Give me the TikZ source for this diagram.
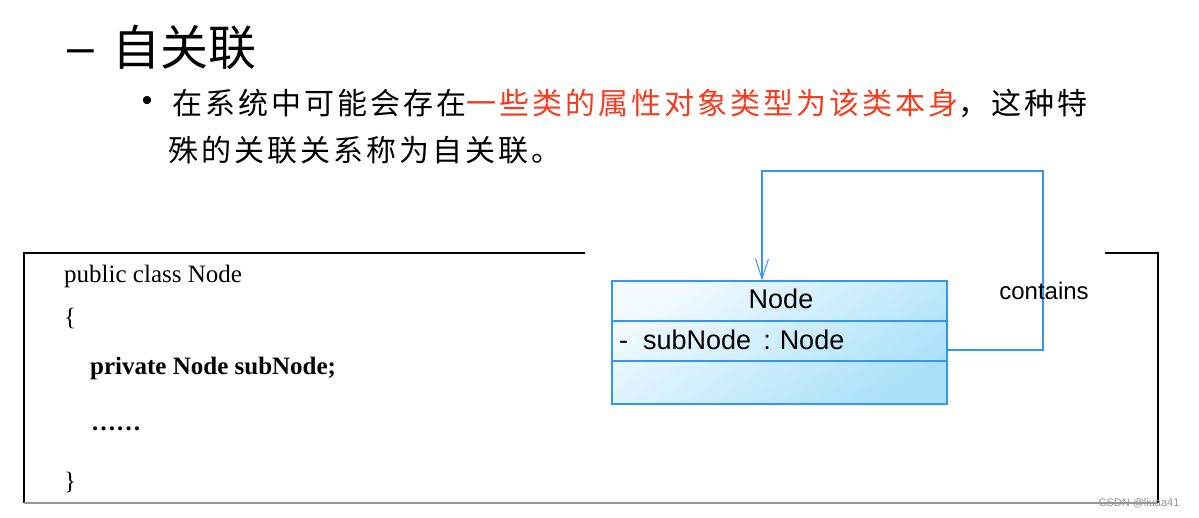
\documentclass[tikz,border=0pt]{standalone}
\usepackage{fontspec}
\usetikzlibrary{arrows.meta}
\newfontfamily\cjk{Noto Sans CJK SC}
\newfontfamily\cjkwide[LetterSpace=10]{Noto Sans CJK SC}
\newfontfamily\codefont{Liberation Serif}
\newfontfamily\umlfont{Liberation Sans}
\definecolor{umlborder}{RGB}{51,150,245}
\definecolor{umltop}{RGB}{242,250,255}
\definecolor{umlbottom}{RGB}{170,225,250}
\definecolor{hlred}{RGB}{245,60,30}
\definecolor{wm}{RGB}{150,150,150}
\tikzset{
  cjktext/.style={inner sep=0pt, font=\cjkwide\fontsize{30}{36}\selectfont},
  codetext/.style={anchor=base west, inner sep=0pt, font=\codefont\fontsize{25}{30}\selectfont},
  umltext/.style={inner sep=0pt, font=\umlfont\fontsize{27}{32}\selectfont},
  conn/.style={draw=umlborder, line width=1.4pt},
  frame/.style={line width=1.8pt}
}
\begin{document}
\begin{tikzpicture}[x=1pt,y=-1pt]
\useasboundingbox[fill=white] (0,0) rectangle (1199,518);
% title
\node[inner sep=0pt, font=\umlfont\fontsize{48}{56}\selectfont] (dash) at (81,57) {–};
\node[anchor=west, inner sep=0pt, font=\cjk\fontsize{48}{56}\selectfont] (title) at (112,47) {自关联};
% bullet text
\node[inner sep=0pt, font=\umlfont\fontsize{30}{36}\selectfont] (bullet) at (147,104) {•};
\node[cjktext, anchor=west] (line1) at (172,103) {在系统中可能会存在\textcolor{hlred}{一些类的属性对象类型为该类本身}，这种特};
\node[cjktext, anchor=west] (line2) at (168,150) {殊的关联关系称为自关联。};
% frame
\draw[frame] (585,253) -- (24,253) -- (24,503);
\draw[frame, wm] (24,503) -- (1158,503);
\draw[frame] (1105,253) -- (1158,253) -- (1158,503);
% code
\node[codetext] (c1) at (64,283) {public class Node};
\node[codetext] (c2) at (64,326) {\{};
\node[codetext] (c3) at (90,374) {\bfseries private Node subNode;};
\node[codetext] (c4) at (91,430) {\bfseries ……};
\node[codetext] (c5) at (64,489) {\}};
% UML class
\node[draw=umlborder, line width=1.2pt, minimum width=335pt, minimum height=123pt, inner sep=0pt,
      top color=umltop, bottom color=umlbottom, shading angle=35] (cls) at (779.5,342.5) {};
\draw[umlborder, line width=1.2pt] (cls.west |- 0,321) -- (cls.east |- 0,321);
\draw[umlborder, line width=1.2pt] (cls.west |- 0,361) -- (cls.east |- 0,361);
\node[umltext] (cname) at (781,299) {Node};
\node[umltext, anchor=west] (cattr) at (619,340) {-\hspace{15pt}subNode\hspace{12pt}:\hspace{9pt}Node};
% self association
\coordinate (start) at (cls.east |- 0,350);
\coordinate (end) at (cls.north -| 762,0);
\draw[conn, -{Straight Barb[length=20pt, width=13pt, line width=1pt]}] (start) -- (1043,350) -- (1043,171) -- (762,171) -- (end);
\node[inner sep=0pt, font=\umlfont\fontsize{24}{28}\selectfont] (contains) at (1044,291) {contains};
% watermark
\node[inner sep=0pt, text=wm, font=\umlfont\fontsize{11}{13}\selectfont] (wmark) at (1139,503) {CSDN @liuaa41};
\end{tikzpicture}
\end{document}
